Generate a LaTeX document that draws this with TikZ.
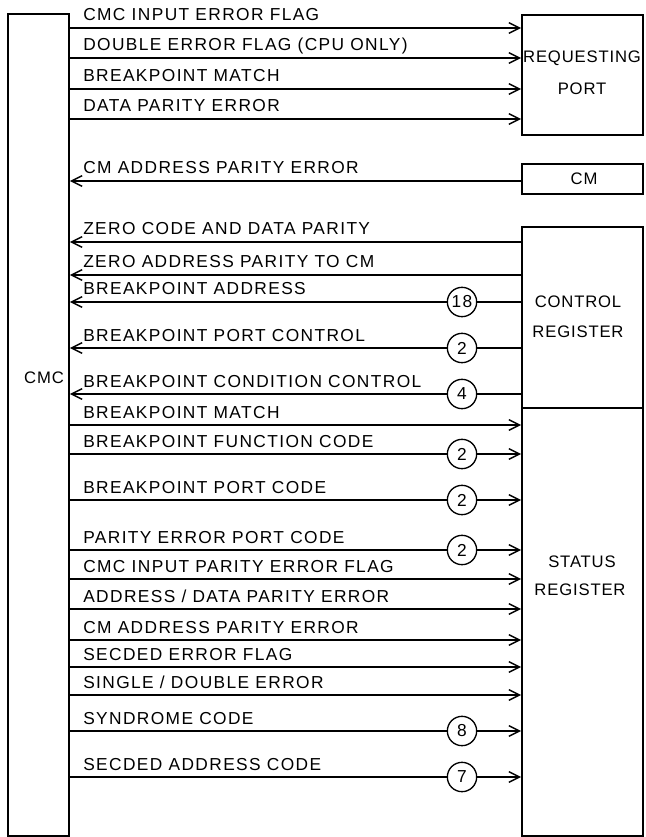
\documentclass[tikz,border=0pt]{standalone}
\usepackage{fontspec}
\setmainfont{Liberation Sans}[LetterSpace=8]
\usetikzlibrary{arrows.meta,fit}

\begin{document}
\begin{tikzpicture}[x=0.75pt, y=-0.75pt,
  font=\fontsize{13pt}{15pt}\selectfont,
  block/.style={draw, line width=1.3pt, inner sep=0pt},
  sig/.style={line width=1.1pt, -{Straight Barb[length=8pt,width=8pt]}},
  wire/.style={line width=1.1pt},
  bus/.style={draw, circle, line width=1pt, minimum size=22pt, inner sep=0pt, fill=white},
  sigtext/.style={anchor=base west, inner sep=0pt},
  boxtext/.style={inner sep=0pt, font=\fontsize{12.5pt}{15pt}\selectfont\addfontfeature{LetterSpace=5}}]

\useasboundingbox (0,0) rectangle (645,837);

%BLOCKS
\node[block, fit={(8,14) (69,836)}] (cmc) {};
\node[block, fit={(522,15) (643,135)}] (reqport) {};
\node[block, fit={(522,164) (643,194)}] (cm) {};
\node[block, fit={(522,227) (643,408)}] (ctrlreg) {};
\node[block, fit={(522,408) (643,836)}] (statreg) {};

\node[boxtext] (cmclabel) at (44,378) {CMC};
\node[boxtext] (rplabela) at (582,58) {REQUESTING};
\node[boxtext] (rplabelb) at (582,89) {PORT};
\node[boxtext] (cmlabel) at (584,179) {CM};
\node[boxtext] (crlabela) at (578,302) {CONTROL};
\node[boxtext] (crlabelb) at (578,332) {REGISTER};
\node[boxtext] (srlabela) at (582,562) {STATUS};
\node[boxtext] (srlabelb) at (580,590) {REGISTER};

%ROWS
\coordinate (buscol) at (462,0);
\foreach \y [count=\i] in {28,58,89,119,181,242,275,302,348,394,425,454,500,550,579,609,640,667,695,731,777}
  \coordinate (row\i) at (0,\y);

%TO REQUESTING PORT
\draw[sig] (cmc.east |- row1) -- (reqport.west |- row1);
\draw[sig] (cmc.east |- row2) -- (reqport.west |- row2);
\draw[sig] (cmc.east |- row3) -- (reqport.west |- row3);
\draw[sig] (cmc.east |- row4) -- (reqport.west |- row4);

\node[sigtext] (t1) at (83,21) {CMC INPUT ERROR FLAG};
\node[sigtext] (t2) at (83,51) {DOUBLE ERROR FLAG (CPU ONLY)};
\node[sigtext] (t3) at (83,82) {BREAKPOINT  MATCH};
\node[sigtext] (t4) at (83,112) {DATA PARITY ERROR};

%FROM CM
\draw[sig] (cm.west |- row5) -- (cmc.east |- row5);
\node[sigtext] (t5) at (83,174) {CM ADDRESS PARITY ERROR};

%FROM CONTROL REGISTER
\node[bus] (w8) at (buscol |- row8) {18};
\node[bus] (w9) at (buscol |- row9) {2};
\node[bus] (w10) at (buscol |- row10) {4};

\draw[sig] (ctrlreg.west |- row6) -- (cmc.east |- row6);
\draw[sig] (ctrlreg.west |- row7) -- (cmc.east |- row7);
\draw[wire] (ctrlreg.west |- w8) -- (w8);
\draw[sig] (w8) -- (cmc.east |- w8);
\draw[wire] (ctrlreg.west |- w9) -- (w9);
\draw[sig] (w9) -- (cmc.east |- w9);
\draw[wire] (ctrlreg.west |- w10) -- (w10);
\draw[sig] (w10) -- (cmc.east |- w10);

\node[sigtext] (t6) at (83,235) {ZERO CODE AND DATA PARITY};
\node[sigtext] (t7) at (83,268) {ZERO ADDRESS PARITY TO CM};
\node[sigtext] (t8) at (83,295) {BREAKPOINT ADDRESS};
\node[sigtext] (t9) at (83,341) {BREAKPOINT PORT CONTROL};
\node[sigtext] (t10) at (83,387) {BREAKPOINT CONDITION CONTROL};

%TO STATUS REGISTER
\node[bus] (w12) at (buscol |- row12) {2};
\node[bus] (w13) at (buscol |- row13) {2};
\node[bus] (w14) at (buscol |- row14) {2};
\node[bus] (w20) at (buscol |- row20) {8};
\node[bus] (w21) at (buscol |- row21) {7};

\draw[sig] (cmc.east |- row11) -- (statreg.west |- row11);
\draw[wire] (cmc.east |- w12) -- (w12);
\draw[sig] (w12) -- (statreg.west |- w12);
\draw[wire] (cmc.east |- w13) -- (w13);
\draw[sig] (w13) -- (statreg.west |- w13);
\draw[wire] (cmc.east |- w14) -- (w14);
\draw[sig] (w14) -- (statreg.west |- w14);
\draw[sig] (cmc.east |- row15) -- (statreg.west |- row15);
\draw[sig] (cmc.east |- row16) -- (statreg.west |- row16);
\draw[sig] (cmc.east |- row17) -- (statreg.west |- row17);
\draw[sig] (cmc.east |- row18) -- (statreg.west |- row18);
\draw[sig] (cmc.east |- row19) -- (statreg.west |- row19);
\draw[wire] (cmc.east |- w20) -- (w20);
\draw[sig] (w20) -- (statreg.west |- w20);
\draw[wire] (cmc.east |- w21) -- (w21);
\draw[sig] (w21) -- (statreg.west |- w21);

\node[sigtext] (t11) at (83,418) {BREAKPOINT MATCH};
\node[sigtext] (t12) at (83,447) {BREAKPOINT FUNCTION CODE};
\node[sigtext] (t13) at (83,493) {BREAKPOINT PORT CODE};
\node[sigtext] (t14) at (83,543) {PARITY ERROR PORT CODE};
\node[sigtext] (t15) at (83,572) {CMC INPUT PARITY ERROR FLAG};
\node[sigtext] (t16) at (83,602) {ADDRESS / DATA PARITY ERROR};
\node[sigtext] (t17) at (83,633) {CM ADDRESS PARITY ERROR};
\node[sigtext] (t18) at (83,660) {SECDED ERROR FLAG};
\node[sigtext] (t19) at (83,688) {SINGLE / DOUBLE ERROR};
\node[sigtext] (t20) at (83,724) {SYNDROME CODE};
\node[sigtext] (t21) at (83,770) {SECDED ADDRESS CODE};

\end{tikzpicture}
\end{document}
